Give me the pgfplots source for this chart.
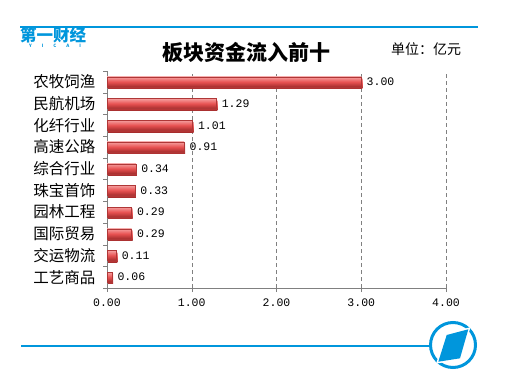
\documentclass[border=0pt]{standalone}
\usepackage{fontspec}
\setmainfont{Noto Sans CJK SC}
\newfontfamily\mono{Liberation Mono}
\usepackage{pgfplots}
\pgfplotsset{compat=1.18}
\definecolor{yblue}{RGB}{0,150,220}
\definecolor{gridgray}{RGB}{128,128,128}
\definecolor{bartop}{RGB}{245,160,160}
\definecolor{barmid}{RGB}{232,82,82}
\definecolor{barbot}{RGB}{165,45,45}
\definecolor{baredge}{RGB}{175,55,55}
\pgfplotsset{onebar/.style={xbar, bar shift=0pt, draw=baredge, line width=0.3pt,
  preaction={fill=black!28, draw=none, transform canvas={xshift=1pt, yshift=-1.8pt}},
  top color=bartop, bottom color=barbot, middle color=barmid}}
\begin{document}
\begin{tikzpicture}[x=1pt,y=1pt]
\path[use as bounding box] (0,0) rectangle (505,386);
% header
\draw[yblue, line width=2pt] (20,359) -- (478,359);
\node[anchor=west, text=yblue, font=\bfseries\fontsize{16.5}{16.5}\selectfont, inner sep=0] at (20,351) {第一财经};
\node[text=yblue, font=\bfseries\fontsize{4.5}{4.5}\selectfont, inner sep=0] at (55,340) {Y\hspace{10pt}I\hspace{10pt}C\hspace{10pt}A\hspace{10pt}I};
\node[font=\bfseries\fontsize{21}{21}\selectfont] at (246,334) {板块资金流入前十};
\node[font=\fontsize{14}{14}\selectfont] at (426,337) {单位：亿元};
\begin{axis}[
  at={(107pt,98pt)}, anchor=south west,
  scale only axis, width=339pt, height=217pt,
  xmin=0, xmax=4, ymin=-0.5, ymax=9.5,
  axis x line*=bottom, axis y line*=left,
  axis line style={gridgray},
  xtick={0,1,2,3,4},
  xticklabel={\pgfmathprintnumber[fixed,fixed zerofill,precision=2,assume math mode=true]{\tick}},
  xticklabel style={font=\mono\fontsize{11.5}{11.5}\selectfont, yshift=-3pt},
  ytick={0,...,9},
  yticklabels={工艺商品,交运物流,国际贸易,园林工程,珠宝首饰,综合行业,高速公路,化纤行业,民航机场,农牧饲渔},
  yticklabel style={font=\fontsize{15.5}{15.5}\selectfont, xshift=-4pt},
  minor ytick={-0.5,0.5,...,9.5},
  tick align=outside,
  major tick length=4pt, minor tick length=4pt,
  tick style={gridgray},
  every major y tick/.style={draw=none},
  xmajorgrids, grid style={gridgray, dash pattern=on 4pt off 3pt},
  bar width=10pt,
  point meta=x,
  nodes near coords={\pgfmathprintnumber[fixed,fixed zerofill,precision=2,assume math mode=true]{\pgfplotspointmeta}},
  nodes near coords style={font=\mono\fontsize{11.5}{11.5}\selectfont, anchor=west, xshift=2pt, text=black},
  clip=false,
]
\addplot[onebar] coordinates {(0.06,0)};
\addplot[onebar] coordinates {(0.11,1)};
\addplot[onebar] coordinates {(0.29,2)};
\addplot[onebar] coordinates {(0.29,3)};
\addplot[onebar] coordinates {(0.33,4)};
\addplot[onebar] coordinates {(0.34,5)};
\addplot[onebar] coordinates {(0.91,6)};
\addplot[onebar] coordinates {(1.01,7)};
\addplot[onebar] coordinates {(1.29,8)};
\addplot[onebar] coordinates {(3.00,9)};
\end{axis}
% footer
\draw[yblue, line width=2pt] (21,40) -- (430,40);
\draw[yblue, line width=3pt] (453,41) circle (22.5);
\draw[white, line width=3pt, fill=yblue] (446.7,51) -- (468.3,56.7) -- (460,27.7) -- (438.3,24.3) -- cycle;
\fill[yblue] (446.7,51) -- (468.3,56.7) -- (460,27.7) -- (438.3,24.3) -- cycle;
\end{tikzpicture}
\end{document}
